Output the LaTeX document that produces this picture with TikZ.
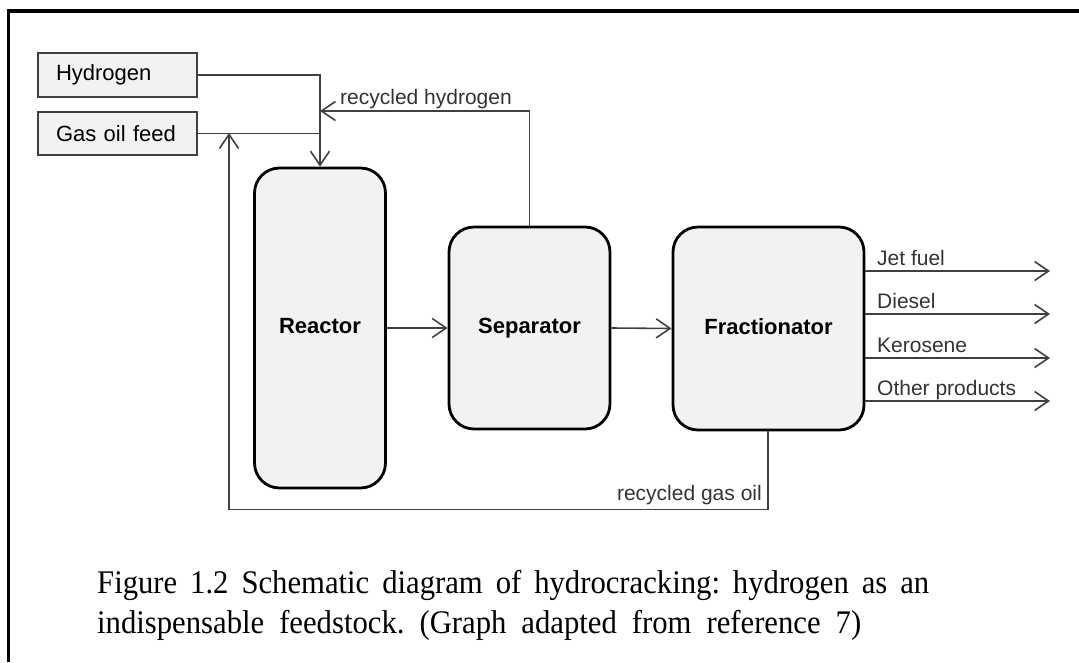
\documentclass[tikz,border=0pt]{standalone}
\usepackage{fontspec}
\setmainfont{Liberation Sans}
\newfontfamily\capfont[FakeStretch=0.93]{Liberation Serif}
\usetikzlibrary{arrows.meta}
\definecolor{boxfill}{HTML}{F2F2F2}
\definecolor{linegray}{HTML}{404040}
\frenchspacing
\tikzset{
  inbox/.style={draw=linegray, line width=1.6pt, fill=boxfill,
    minimum height=44pt, text width=123pt, inner xsep=18pt, inner ysep=0pt,
    align=left, font=\fontsize{22pt}{26pt}\selectfont},
  procbox/.style={draw=black, line width=2.8pt, fill=boxfill, rounded corners=25pt,
    inner sep=0pt, text height=16pt, text depth=4.5pt,
    font=\bfseries\fontsize{22pt}{26pt}\selectfont},
  conn/.style={draw=linegray, line width=1.6pt},
  arr/.style={conn, -{Straight Barb[length=14pt,width=19pt,line width=1.6pt]}},
  lbl/.style={inner sep=0pt, text=linegray!80!black, font=\fontsize{21pt}{25pt}\selectfont},
  captxt/.style={inner sep=0pt, anchor=base west, font=\capfont\fontsize{33pt}{40pt}\selectfont}
}
\begin{document}
\begin{tikzpicture}[x=1pt,y=-1pt]
\useasboundingbox (0,0) rectangle (1079,662);
% frame
\draw[line width=3.4pt] (8.3,662) -- (8.3,11) -- (1079,11);
% input boxes
\node[inbox, minimum width=159pt] (hyd) at (117.5,75) {Hydrogen};
\node[inbox, minimum width=159pt, minimum height=43pt] (gof) at (117.5,133.5) {Gas oil feed};
% process boxes
\node[procbox, minimum width=131pt, minimum height=320pt] (rea) at (320,328) {Reactor};
\node[procbox, minimum width=161pt, minimum height=202pt] (sep) at (529.5,328) {Separator};
\node[procbox, minimum width=191pt, minimum height=203pt] (fra) at (768.5,328.5) {Fractionator};
% helper coordinates
\coordinate (rhy) at (0,111);
\coordinate (rh) at (rea.north |- rhy);
\coordinate (gbr) at (768,509.5);
\coordinate (gbl) at (229,509.5);
\coordinate (gtop) at (229,133);
\coordinate (o1) at (1050,271);
\coordinate (o2) at (1050,314);
\coordinate (o3) at (1050,358);
\coordinate (o4) at (1050,401);
% feed connectors
\draw[arr] (hyd.east) -| (rea.north);
\draw[conn] (gof.east) -- (gof.east -| rea.north);
\draw[arr] (sep.north) |- (rh);
\draw[arr] (rea.east |- sep.west) -- (sep.west);
\draw[arr] (sep.east) -- (fra.west);
\draw[arr] (fra.south -| gbr) -- (gbr) -- (gbl) -- (gtop);
% outputs
\draw[arr] (fra.east |- o1) -- (o1);
\draw[arr] (fra.east |- o2) -- (o2);
\draw[arr] (fra.east |- o3) -- (o3);
\draw[arr] (fra.east |- o4) -- (o4);
% labels
\node[lbl, anchor=base west] (lrh) at (340,104) {recycled hydrogen};
\node[lbl, anchor=base west] (l1) at (877,265) {Jet fuel};
\node[lbl, anchor=base west] (l2) at (877,308) {Diesel};
\node[lbl, anchor=base west] (l3) at (877,352) {Kerosene};
\node[lbl, anchor=base west] (l4) at (877,395) {Other products};
\node[lbl, anchor=base east] (lrg) at (762,500) {recycled gas oil};
% caption
\node[captxt] (cap1) at (97,593) {\makebox[832pt][s]{Figure 1.2 Schematic diagram of hydrocracking: hydrogen as an}};
\node[captxt] (cap2) at (97,633) {\makebox[764pt][s]{indispensable feedstock. (Graph adapted from reference 7)}};
\end{tikzpicture}
\end{document}
